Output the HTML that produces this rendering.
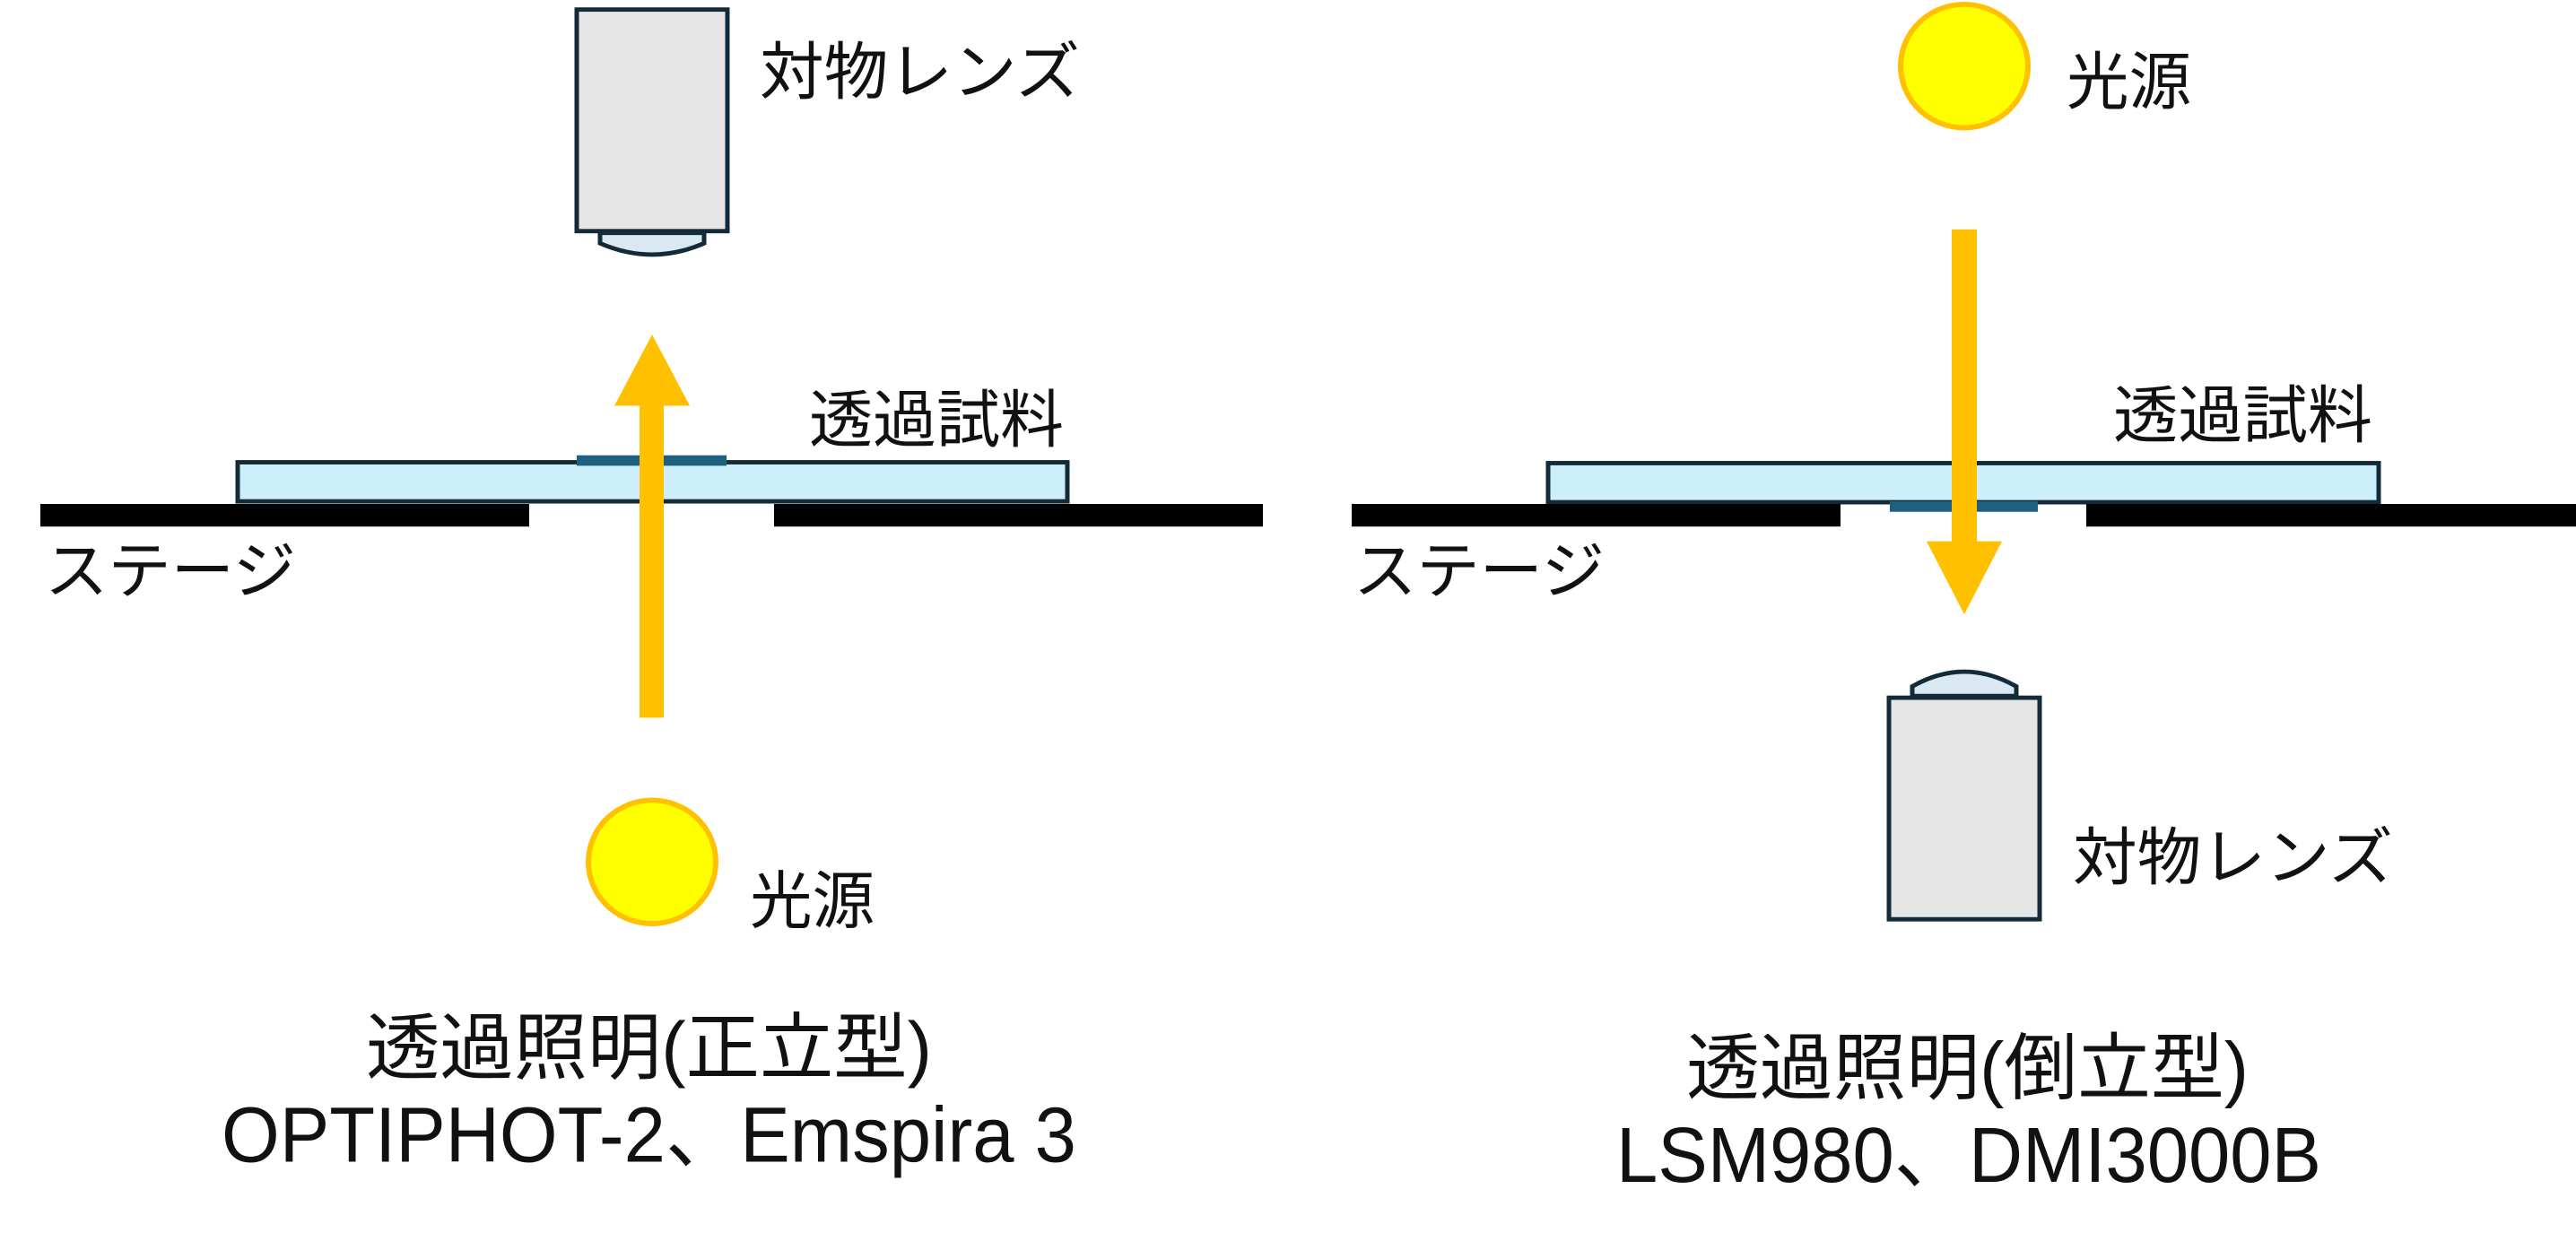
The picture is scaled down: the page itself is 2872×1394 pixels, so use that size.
<!DOCTYPE html>
<html><head><meta charset="utf-8"><style>
html,body{margin:0;padding:0;background:#fff;}
svg{display:block;}
text{font-family:"Liberation Sans","Noto Sans CJK JP",sans-serif;fill:#111;}
</style></head><body>
<svg width="2872" height="1394" viewBox="0 0 2872 1394" xmlns="http://www.w3.org/2000/svg">
<g transform="scale(1,0.969)">
<!-- LEFT PANEL -->
<rect x="643" y="11" width="168" height="255" fill="#e6e6e6" stroke="#132b38" stroke-width="5"/>
<path d="M669 268 L669 280 Q727 306 785 280 L785 268 Z" fill="#dae8f4" stroke="#132b38" stroke-width="5"/>
<rect x="265" y="532" width="925" height="45" fill="#cdeefb" stroke="#132b38" stroke-width="5"/>
<rect x="643" y="524" width="167" height="12" fill="#1f5f80"/>
<rect x="45" y="580" width="545" height="26" fill="#000"/>
<rect x="863" y="580" width="545" height="26" fill="#000"/>
<rect x="713" y="465" width="27" height="361" fill="#ffc000"/>
<polygon points="685,467 769,467 727,385" fill="#ffc000"/>
<circle cx="727" cy="992" r="71" fill="#ffff00" stroke="#ffc000" stroke-width="6"/>
<text x="847" y="108" font-size="72" textLength="357" lengthAdjust="spacingAndGlyphs">対物レンズ</text>
<text x="902" y="508" font-size="72" textLength="284" lengthAdjust="spacingAndGlyphs">透過試料</text>
<text x="50" y="682" font-size="72" textLength="280" lengthAdjust="spacingAndGlyphs">ステージ</text>
<text x="836" y="1062" font-size="72" textLength="139" lengthAdjust="spacingAndGlyphs">光源</text>
<text x="408" y="1235" font-size="84" textLength="631" lengthAdjust="spacingAndGlyphs">透過照明(正立型)</text>
<text x="247" y="1337" font-size="90" textLength="953" lengthAdjust="spacingAndGlyphs">OPTIPHOT-2、Emspira 3</text>

<!-- RIGHT PANEL -->
<circle cx="2190" cy="76" r="71" fill="#ffff00" stroke="#ffc000" stroke-width="6"/>
<rect x="1726" y="533" width="926" height="45" fill="#cdeefb" stroke="#132b38" stroke-width="5"/>
<rect x="2107" y="577" width="165" height="12" fill="#1f5f80"/>
<rect x="1507" y="580" width="545" height="26" fill="#000"/>
<rect x="2326" y="580" width="546" height="26" fill="#000"/>
<rect x="2176" y="264" width="28" height="361" fill="#ffc000"/>
<polygon points="2148,623 2232,623 2190,707" fill="#ffc000"/>
<path d="M2132 801 L2132 790 Q2190 756 2248 790 L2248 801 Z" fill="#dae8f4" stroke="#132b38" stroke-width="5"/>
<rect x="2106" y="803" width="168" height="255" fill="#e6e6e6" stroke="#132b38" stroke-width="5"/>
<text x="2304" y="119" font-size="72" textLength="139" lengthAdjust="spacingAndGlyphs">光源</text>
<text x="2356" y="503" font-size="72" textLength="289" lengthAdjust="spacingAndGlyphs">透過試料</text>
<text x="1509" y="682" font-size="72" textLength="280" lengthAdjust="spacingAndGlyphs">ステージ</text>
<text x="2311" y="1012" font-size="72" textLength="357" lengthAdjust="spacingAndGlyphs">対物レンズ</text>
<text x="1880" y="1258" font-size="84" textLength="627" lengthAdjust="spacingAndGlyphs">透過照明(倒立型)</text>
<text x="1802" y="1360" font-size="90" textLength="786" lengthAdjust="spacingAndGlyphs">LSM980、DMI3000B</text>
</g>
</svg>
</body></html>
